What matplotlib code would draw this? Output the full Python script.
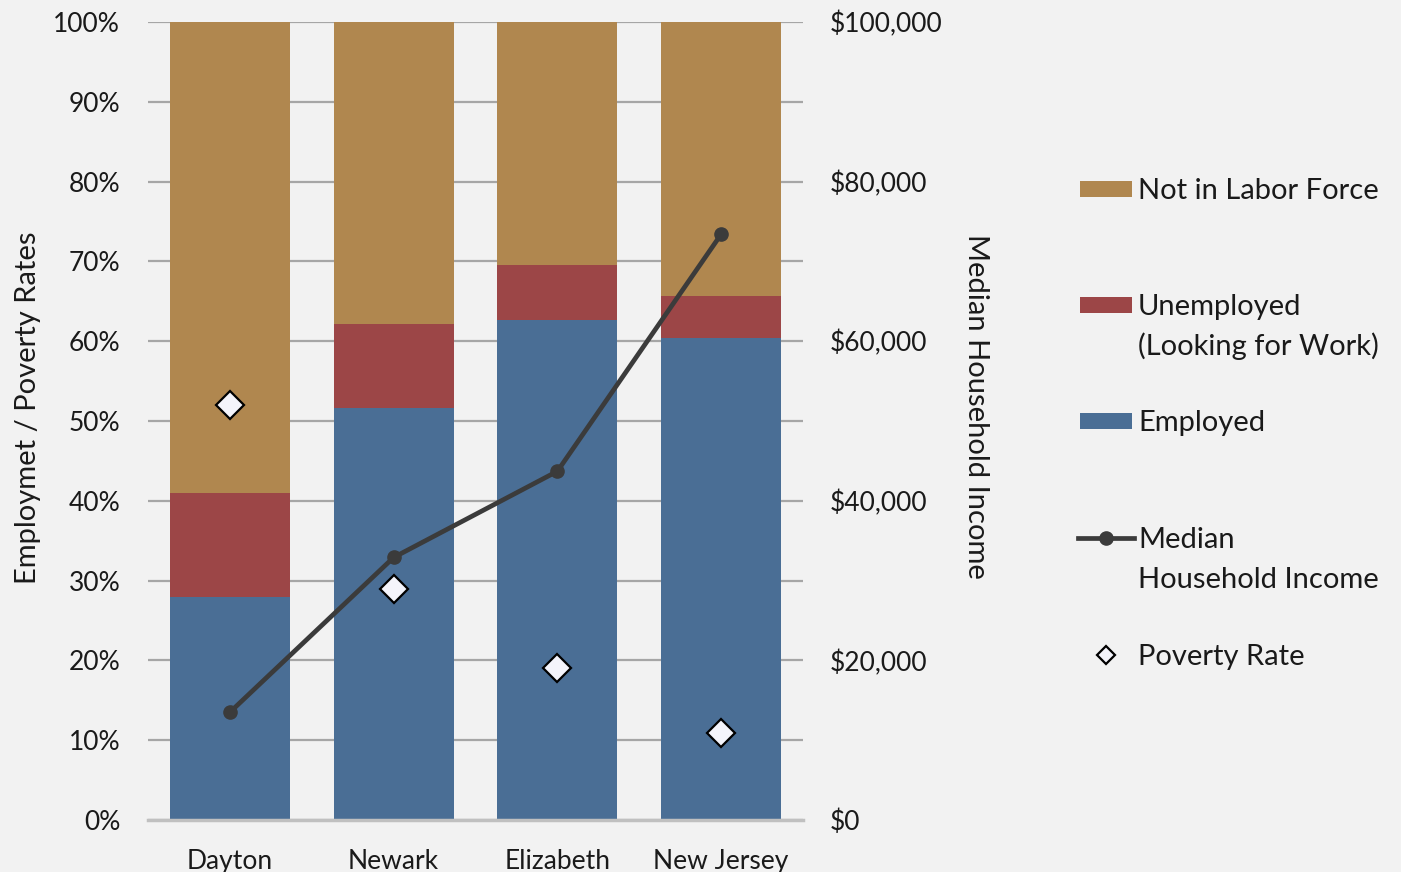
import matplotlib.pyplot as plt
from matplotlib.patches import Rectangle
from matplotlib.lines import Line2D
from matplotlib.ticker import FuncFormatter
import numpy as np

plt.rcParams['font.family'] = ['Lato', 'DejaVu Sans']

# data
places = ["Dayton", "Newark", "Elizabeth", "New Jersey"]
employed = [28.0, 51.6, 62.6, 60.4]          # % of population
unemployed = [13.0, 10.6, 7.0, 5.3]
not_in_lf = [59.0, 37.8, 30.4, 34.3]
income = [13500, 32900, 43700, 73400]        # median household income $
poverty = [52.0, 29.0, 19.0, 10.9]           # poverty rate %

c_emp = '#4a6e95'
c_unemp = '#9c4647'
c_nilf = '#b0874f'
c_line = '#3b3b3b'
bg = '#f2f2f2'
txt = '#1a1a1a'
fs_tick = 19
fs = 21

fig = plt.figure(figsize=(14.01, 8.72), dpi=100, facecolor=bg)
ax = fig.add_axes([148/1401, 1-820/872, 655/1401, 798/872])
ax.set_facecolor(bg)

x = np.arange(len(places))
w = 0.732
emp = np.array(employed)
une = np.array(unemployed)
ax.bar(x, emp, w, color=c_emp, zorder=2)
ax.bar(x, une, w, bottom=emp, color=c_unemp, zorder=2)
ax.bar(x, not_in_lf, w, bottom=emp+une, color=c_nilf, zorder=2)

ax.set_xlim(-0.5, 3.5)
ax.set_ylim(0, 100)
ax.set_yticks(np.arange(0, 101, 10))
ax.yaxis.set_major_formatter(FuncFormatter(lambda v, p: f"{v:.0f}%"))
ax.grid(axis='y', color='#a6a6a6', lw=1.6, zorder=0)
ax.set_axisbelow(True)
for s in ['top', 'right', 'left']:
    ax.spines[s].set_visible(False)
ax.spines['bottom'].set_color('#c0c0c0')
ax.spines['bottom'].set_linewidth(2.5)
ax.tick_params(axis='both', length=0, labelsize=fs_tick, colors=txt)
ax.tick_params(axis='y', pad=20)
ax.tick_params(axis='x', pad=21)
ax.set_xticks(x)
ax.set_xticklabels(places)

# poverty rate on the left axis
ax.plot(x, poverty, linestyle='none', marker='D', ms=14, mfc='#f4f4fb',
        mec='black', mew=1.6, zorder=5)

ax2 = ax.twinx()
ax2.set_ylim(0, 100000)
ax2.set_yticks(np.arange(0, 100001, 20000))
ax2.yaxis.set_major_formatter(FuncFormatter(lambda v, p: "$0" if v == 0 else f"${v:,.0f}"))
for s in ax2.spines.values():
    s.set_visible(False)
ax2.tick_params(axis='y', length=0, labelsize=fs_tick, colors=txt, pad=19.5)
ax2.plot(x, income, color=c_line, lw=3.4, marker='o', ms=9.5, zorder=4)

fig.text(28/1401, 1-408/872, "Employmet / Poverty Rates", rotation=90,
         ha='center', va='center', fontsize=fs, color=txt)
fig.text(976/1401, 1-406/872, "Median Household Income", rotation=-90,
         ha='center', va='center', fontsize=fs, color=txt)

# legend drawn by hand to keep Excel-like spacing
def fy(py):
    return 1 - py/872

def fx(px):
    return px/1401

tx = fx(1138)

def leg_text(lines, py):
    for i, s in enumerate(lines):
        fig.text(tx, fy(py + 10 + 40*i), s, ha='left', va='baseline', fontsize=fs, color=txt)

for py, col, lab in [(189, c_nilf, ["Not in Labor Force"]),
                     (305, c_unemp, ["Unemployed", "(Looking for Work)"]),
                     (421, c_emp, ["Employed"])]:
    fig.add_artist(Rectangle((fx(1080), fy(py+8)), 52/1401, 16/872,
                             facecolor=col, edgecolor='none', transform=fig.transFigure))
    leg_text(lab, py)

fig.add_artist(Line2D([fx(1078), fx(1134)], [fy(538), fy(538)], color=c_line, lw=3.4,
                      transform=fig.transFigure))
fig.add_artist(Line2D([fx(1106)], [fy(538)], color=c_line, marker='o', ms=9.5,
                      transform=fig.transFigure))
leg_text(["Median", "Household Income"], 538)
fig.add_artist(Line2D([fx(1106)], [fy(655)], marker='D', ms=9.5, mfc='#f4f4fb', mec='black',
                      mew=1.6, linestyle='none', transform=fig.transFigure))
leg_text(["Poverty Rate"], 655)

fig.savefig("out.png", dpi=100, facecolor=bg)
